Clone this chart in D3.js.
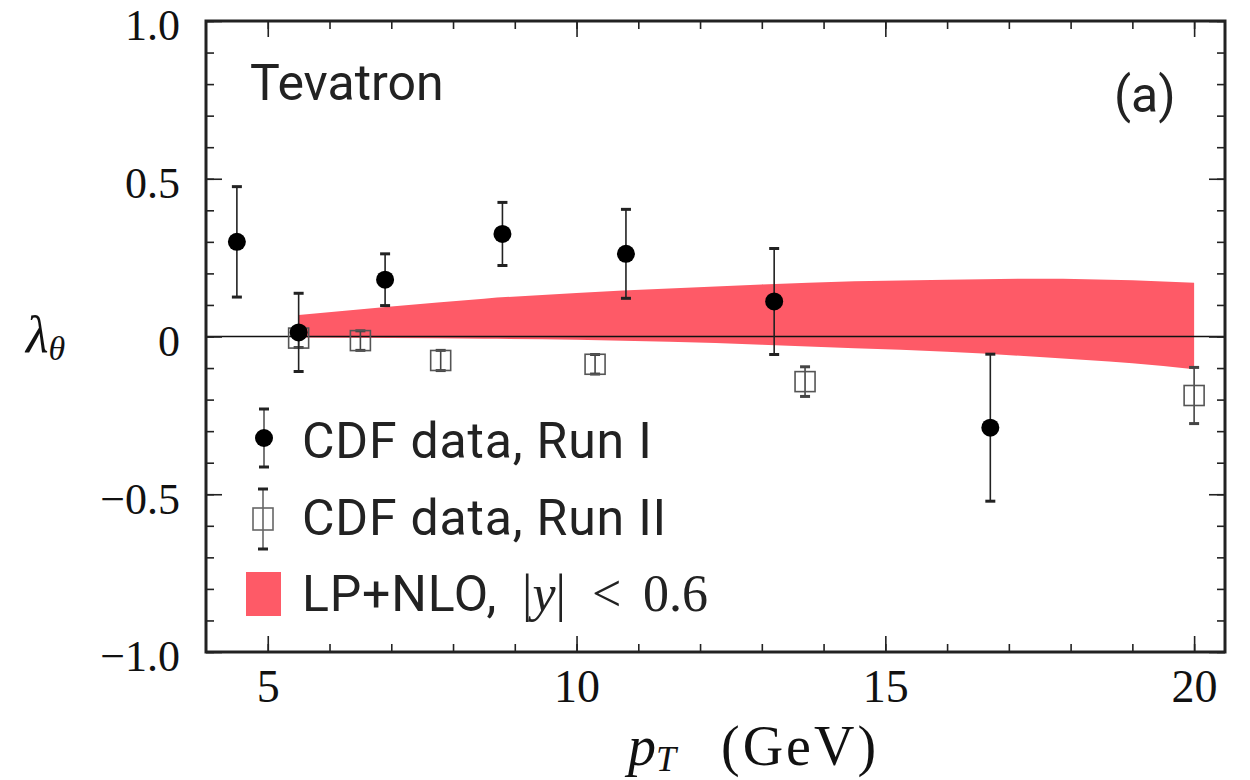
<!DOCTYPE html>
<html><head><meta charset="utf-8">
<script src="https://cdn.jsdelivr.net/npm/d3@7"></script>
<style>body{margin:0;background:#fff}svg{display:block}</style>
</head><body>
<svg id="c" width="1250" height="780"></svg>
<script>
// ---- data ----
const run1PT   = [4.5, 5.5, 6.9, 8.8, 10.8, 13.2, 16.7];
const run1Val  = [0.30, 0.013, 0.18, 0.325, 0.262, 0.111, -0.289];
const run1Err  = [0.175, 0.124, 0.082, 0.10, 0.141, 0.168, 0.233];
const run2PT   = [5.5, 6.5, 7.8, 10.3, 13.7, 20.0];
const run2Val  = [-0.005, -0.013, -0.076, -0.088, -0.143, -0.187];
const run2Err  = [0.03, 0.031, 0.032, 0.031, 0.047, 0.089];
const bandPT    = [5.5, 7, 8.5, 10, 11.5, 13, 14.5, 16, 17.5, 19, 20];
const bandUpper = [0.068, 0.095, 0.12, 0.138, 0.152, 0.165, 0.175, 0.18, 0.183, 0.178, 0.17];
const bandLower = [-0.003, -0.005, -0.007, -0.01, -0.017, -0.026, -0.037, -0.048, -0.065, -0.085, -0.104];
const xTicks = [5, 10, 15, 20];
const xTickLabels = ["5", "10", "15", "20"];
const yTicks = [-1, -0.5, 0, 0.5, 1];
const yTickLabels = ["\u22121.0", "\u22120.5", "0", "0.5", "1.0"];
const legendLabels = ["CDF data, Run I", "CDF data, Run II", "LP+NLO,"];

const svg = d3.select("#c");
const L = 206, R = 1225, T = 21, B = 652;
const x = d3.scaleLinear().domain([4, 20.5]).range([L, R]);
const y = d3.scaleLinear().domain([-1, 1]).range([B, T]);
const RED = "#fe5a67";
const serif = "'Liberation Serif','DejaVu Serif',serif";
const sans = "Roboto,'Open Sans',sans-serif";

// band
const bandData = bandPT.map((p, i) => ({p, u: bandUpper[i], l: bandLower[i]}));
svg.append("path").datum(bandData)
  .attr("d", d3.area().x(d => x(d.p)).y0(d => y(d.l)).y1(d => y(d.u)).curve(d3.curveMonotoneX))
  .attr("fill", RED);

// zero line
svg.append("line").attr("x1", L).attr("x2", R).attr("y1", y(0)).attr("y2", y(0))
  .attr("stroke", "#111").attr("stroke-width", 1.6);

// axes (ticks inward)
const minorX = d3.range(5, 21, 1);
const minorY = d3.range(-10, 11).map(v => v / 10);
function axisGroup(axis, tr) { return svg.append("g").attr("transform", tr).call(axis); }
const styleAxis = g => { g.select(".domain").remove(); g.selectAll("line").attr("stroke", "#222").attr("stroke-width", 1.6); g.selectAll("text").remove(); };
axisGroup(d3.axisBottom(x).tickValues(minorX).tickSize(-8), `translate(0,${B})`).call(styleAxis);
axisGroup(d3.axisBottom(x).tickValues(xTicks).tickSize(-16), `translate(0,${B})`).call(styleAxis);
axisGroup(d3.axisTop(x).tickValues(minorX).tickSize(-8), `translate(0,${T})`).call(styleAxis);
axisGroup(d3.axisTop(x).tickValues(xTicks).tickSize(-16), `translate(0,${T})`).call(styleAxis);
axisGroup(d3.axisLeft(y).tickValues(minorY).tickSize(-8), `translate(${L},0)`).call(styleAxis);
axisGroup(d3.axisLeft(y).tickValues(yTicks).tickSize(-16), `translate(${L},0)`).call(styleAxis);
axisGroup(d3.axisRight(y).tickValues(minorY).tickSize(-8), `translate(${R},0)`).call(styleAxis);
axisGroup(d3.axisRight(y).tickValues(yTicks).tickSize(-16), `translate(${R},0)`).call(styleAxis);

// tick labels
const gx = svg.append("g").attr("transform", `translate(0,${B})`)
  .call(d3.axisBottom(x).tickValues(xTicks).tickSize(0).tickPadding(17).tickFormat((d, i) => xTickLabels[i]));
gx.select(".domain").remove();
gx.selectAll("text").attr("font-family", serif).attr("font-size", 46).attr("fill", "#111");
const gy = svg.append("g").attr("transform", `translate(${L},0)`)
  .call(d3.axisLeft(y).tickValues(yTicks).tickSize(0).tickPadding(26).tickFormat((d, i) => yTickLabels[i]));
gy.select(".domain").remove();
gy.selectAll("text").attr("font-family", serif).attr("font-size", 44).attr("fill", "#111").attr("dy", "0.43em");

// frame
svg.append("rect").attr("x", L).attr("y", T).attr("width", R - L).attr("height", B - T)
  .attr("fill", "none").attr("stroke", "#222").attr("stroke-width", 3);

// error bar helper
function errBar(g, cx, v, e, color) {
  g.append("line").attr("x1", cx).attr("x2", cx).attr("y1", y(v + e)).attr("y2", y(v - e))
    .attr("stroke", color).attr("stroke-width", 1.6);
  [v + e, v - e].forEach(yy => g.append("line").attr("x1", cx - 5).attr("x2", cx + 5)
    .attr("y1", y(yy)).attr("y2", y(yy)).attr("stroke", color).attr("stroke-width", 3));
}

// Run II
const g2 = svg.append("g");
run2PT.forEach((p, i) => {
  errBar(g2, x(p), run2Val[i], run2Err[i], "#444");
  g2.append("rect").attr("x", x(p) - 10).attr("y", y(run2Val[i]) - 10).attr("width", 20).attr("height", 20)
    .attr("fill", "none").attr("stroke", "#555").attr("stroke-width", 1.6);
});
// Run I
const g1 = svg.append("g");
run1PT.forEach((p, i) => {
  errBar(g1, x(p), run1Val[i], run1Err[i], "#222");
  g1.append("circle").attr("cx", x(p)).attr("cy", y(run1Val[i])).attr("r", 9).attr("fill", "#000");
});

// labels in plot
svg.append("text").attr("x", 250).attr("y", 100).attr("font-family", sans).attr("font-size", 50)
  .attr("fill", "#222").text("Tevatron");
svg.append("text").attr("x", 1114).attr("y", 112).attr("font-family", sans).attr("font-size", 50)
  .attr("fill", "#222").text("(a)");

// legend
const lg = svg.append("g");
lg.append("line").attr("x1", 264).attr("x2", 264).attr("y1", 409).attr("y2", 467).attr("stroke", "#555").attr("stroke-width", 1.6);
[409, 467].forEach(yy => lg.append("line").attr("x1", 259).attr("x2", 269).attr("y1", yy).attr("y2", yy).attr("stroke", "#222").attr("stroke-width", 3));
lg.append("circle").attr("cx", 264).attr("cy", 438).attr("r", 9).attr("fill", "#000");
lg.append("line").attr("x1", 263).attr("x2", 263).attr("y1", 489).attr("y2", 549).attr("stroke", "#666").attr("stroke-width", 1.6);
[489, 549].forEach(yy => lg.append("line").attr("x1", 258).attr("x2", 268).attr("y1", yy).attr("y2", yy).attr("stroke", "#222").attr("stroke-width", 3));
lg.append("rect").attr("x", 253).attr("y", 508).attr("width", 20).attr("height", 22).attr("fill", "none").attr("stroke", "#666").attr("stroke-width", 1.6);
lg.append("rect").attr("x", 246).attr("y", 572).attr("width", 35).attr("height", 44).attr("fill", RED);
const ty = [458, 535, 611];
lg.selectAll("text.l").data(legendLabels).join("text").attr("class", "l")
  .attr("x", 302).attr("y", (d, i) => ty[i]).attr("font-family", sans).attr("font-size", 50)
  .attr("letter-spacing", 0.8).attr("fill", "#222").text(d => d);
const mt = lg.append("text").attr("y", 611).attr("font-family", serif).attr("font-size", 52).attr("fill", "#222");
mt.append("tspan").attr("x", 522).text("|");
mt.append("tspan").attr("font-style", "italic").text("y");
mt.append("tspan").text("|");
mt.append("tspan").attr("x", 592).text("<");
mt.append("tspan").attr("x", 643).text("0.6");

// axis titles
const xt = svg.append("text").attr("x", 628).attr("y", 765).attr("font-family", serif).attr("font-size", 56).attr("fill", "#111");
xt.append("tspan").attr("font-style", "italic").text("p");
xt.append("tspan").attr("font-style", "italic").attr("font-size", 36).attr("dy", 6).text("T");
xt.append("tspan").attr("dy", -6).attr("x", 721).attr("letter-spacing", 3).text("(GeV)");
const yt = svg.append("text").attr("x", 26).attr("y", 352).attr("font-family", serif).attr("font-size", 52).attr("fill", "#111");
yt.append("tspan").attr("font-style", "italic").text("\u03bb");
yt.append("tspan").attr("font-style", "italic").attr("font-size", 34).attr("dy", 8).text("\u03b8");
</script>
</body></html>
